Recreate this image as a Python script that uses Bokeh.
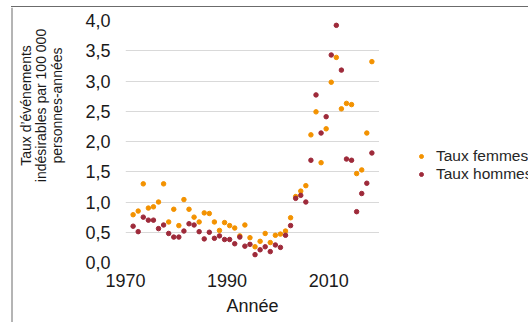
from bokeh.plotting import figure
from bokeh.models import (ColumnDataSource, FixedTicker, CustomJSTickFormatter,
                          Legend, LegendItem, Span, Div)
from bokeh.layouts import row, column
from bokeh.transform import dodge
from bokeh.core.properties import value
from bokeh.embed import file_html
from bokeh.resources import INLINE
import math

# ---- data ----
years = list(range(1971, 2019))
taux_femmes = [0.79, 0.85, 1.30, 0.90, 0.92, 1.00, 1.30, 0.67, 0.88, 0.61,
               1.04, 0.88, 0.75, 0.67, 0.82, 0.81, 0.67, 0.53, 0.66, 0.61,
               0.57, 0.44, 0.62, 0.41, 0.26, 0.35, 0.48, 0.33, 0.45, 0.47,
               0.52, 0.74, 1.09, 1.18, 1.27, 2.11, 2.49, 1.65, 2.21, 2.98,
               3.39, 2.54, 2.63, 2.61, 1.47, 1.53, 2.14, 3.32]
taux_hommes = [0.60, 0.51, 0.75, 0.70, 0.70, 0.56, 0.62, 0.48, 0.42, 0.42,
               0.52, 0.64, 0.62, 0.51, 0.39, 0.50, 0.40, 0.44, 0.38, 0.38,
               0.31, 0.42, 0.27, 0.30, 0.13, 0.21, 0.26, 0.18, 0.29, 0.25,
               0.45, 0.61, 1.06, 1.11, 1.00, 1.69, 2.77, 2.14, 2.41, 3.43,
               3.92, 3.18, 1.71, 1.69, 0.84, 1.14, 1.31, 1.81]
series_names = ["Taux femmes", "Taux hommes"]
x_ticks = [1970, 1990, 2010]
y_ticks = [0, 0.5, 1, 1.5, 2, 2.5, 3, 3.5, 4]
y_tick_labels = ["0,0", "0,5", "1,0", "1,5", "2,0", "2,5", "3,0", "3,5", "4,0"]
x_title = "Année"
y_title_lines = ["Taux d’événements", "indésirables par 100 000", "personnes-années"]

FONT = "Liberation Sans"
ORANGE = "#F39200"
RED = "#9E2A3A"
TXT = "#1a1a1a"
FRAME_LINE = "#6b6b6b"
H = 315
WL, WM, WR = 68, 311, 149

src = ColumnDataSource(dict(year=years, femmes=taux_femmes, hommes=taux_hommes))

# ---------------- main chart ----------------
p = figure(width=WM, height=H, x_range=(1970, 2020), y_range=(0, 4),
           output_backend="svg", toolbar_location=None, frame_align=False,
           min_border_left=57, min_border_right=0,
           min_border_top=13, min_border_bottom=60)
p.outline_line_color = None

xs = dodge("year", 0.5, range=p.x_range)
r1 = p.scatter(x=xs, y="femmes", source=src, size=4.5,
               fill_color=ORANGE, line_color=ORANGE)
r2 = p.scatter(x=xs, y="hommes", source=src, size=4.5,
               fill_color=RED, line_color=RED)

p.xgrid.grid_line_color = None
p.ygrid.grid_line_color = "#D9D9D9"
p.ygrid.grid_line_width = 1

for ax in (p.xaxis[0], p.yaxis[0]):
    ax.axis_line_color = None
    ax.major_tick_line_color = None
    ax.minor_tick_line_color = None
    ax.major_tick_out = 0
    ax.major_tick_in = 0
    ax.major_label_text_font = FONT
    ax.major_label_text_font_size = "18px"
    ax.major_label_text_color = TXT

p.xaxis.ticker = FixedTicker(ticks=x_ticks)
p.xaxis.major_label_standoff = 11
p.xaxis.axis_label = x_title
p.xaxis.axis_label_text_font = FONT
p.xaxis.axis_label_text_font_size = "18px"
p.xaxis.axis_label_text_font_style = "normal"
p.xaxis.axis_label_text_color = TXT
p.xaxis.axis_label_standoff = 6

p.yaxis.ticker = FixedTicker(ticks=y_ticks)
p.yaxis.formatter = CustomJSTickFormatter(
    args=dict(vals=y_ticks, labs=y_tick_labels),
    code="""
const i = vals.findIndex(v => Math.abs(v - tick) < 1e-9);
return i >= 0 ? labs[i] : "";
""")
p.yaxis.major_label_standoff = 15

# ---------------- left strip: y title + chart-area border ----------------
pl = figure(width=WL, height=H, x_range=(0, WL), y_range=(H, 0),
            output_backend="svg", toolbar_location=None, frame_align=False,
            x_axis_type=None, y_axis_type=None,
            min_border_left=0, min_border_right=0,
            min_border_top=0, min_border_bottom=0)
pl.outline_line_color = None
pl.grid.grid_line_color = None
line_pitch = 15.6
title_cx, title_cy = 40.8, 98
pl.text(x=[title_cx + (i - 1) * line_pitch for i in range(len(y_title_lines))],
        y=[title_cy] * len(y_title_lines), text=y_title_lines,
        angle=math.pi / 2, text_align="center", text_baseline="middle",
        text_font=value(FONT), text_font_size="14px", text_color=TXT)
pl.add_layout(Span(location=11.5, dimension="height",
                   line_color=FRAME_LINE, line_width=1))

# ---------------- right strip: legend ----------------
pr = figure(width=WR, height=H, x_range=(0, WR), y_range=(H, 0),
            output_backend="svg", toolbar_location=None, frame_align=False,
            x_axis_type=None, y_axis_type=None,
            min_border_left=0, min_border_right=0,
            min_border_top=0, min_border_bottom=0)
pr.outline_line_color = None
pr.grid.grid_line_color = None
# legend proxies share the data source; the years fall outside this strip's range
lr1 = pr.scatter(x="year", y="femmes", source=src, size=4.5,
                 fill_color=ORANGE, line_color=ORANGE)
lr2 = pr.scatter(x="year", y="hommes", source=src, size=4.5,
                 fill_color=RED, line_color=RED)
legend = Legend(items=[LegendItem(label=series_names[0], renderers=[lr1]),
                       LegendItem(label=series_names[1], renderers=[lr2])],
                location=(37, 139), orientation="vertical",
                padding=0, margin=0, spacing=0,
                glyph_width=10, glyph_height=18, label_height=18,
                label_standoff=10, label_text_font=FONT,
                label_text_font_size="15.5px", label_text_color="#262626",
                background_fill_alpha=0, border_line_color=None)
pr.add_layout(legend)

top_line = Div(width=WL + WM + WR - 11, height=1, margin=(6, 0, 0, 11),
               styles={"background-color": FRAME_LINE})

layout = column(top_line, row(pl, p, pr, spacing=0), spacing=0)

open("out.html", "w").write(file_html(layout, INLINE))
